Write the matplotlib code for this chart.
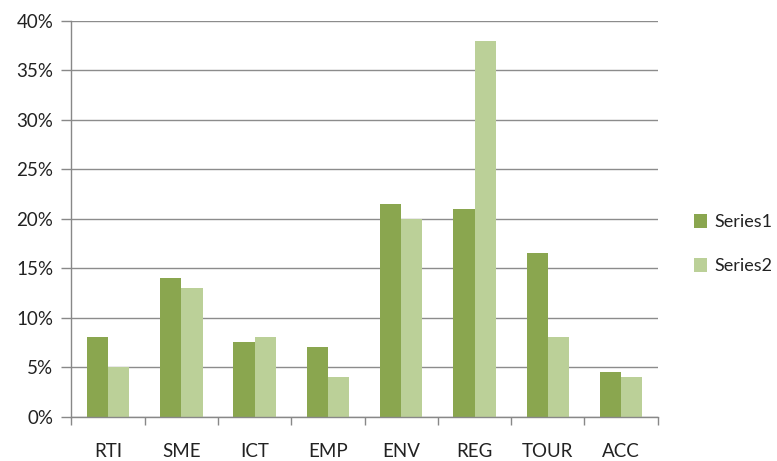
import matplotlib
matplotlib.use("Agg")
import matplotlib.pyplot as plt
import numpy as np
from matplotlib.ticker import FixedLocator, PercentFormatter

categories = ["RTI", "SME", "ICT", "EMP", "ENV", "REG", "TOUR", "ACC"]
series1 = [8.0, 14.0, 7.5, 7.0, 21.5, 21.0, 16.5, 4.5]
series2 = [5.0, 13.0, 8.0, 4.0, 20.0, 38.0, 8.0, 4.0]
series_names = ["Series1", "Series2"]
yticks = [0, 5, 10, 15, 20, 25, 30, 35, 40]

plt.rcParams['font.family'] = ['Lato', 'DejaVu Sans']

fig = plt.figure(figsize=(7.77, 4.61), dpi=100)
ax = fig.add_axes([0.092, 0.0965, 0.7545, 0.858])

x = np.arange(len(categories))
w = 0.29
c1 = "#8AA64F"
c2 = "#BBD098"
ax.bar(x - w / 2, series1, width=w, color=c1, label=series_names[0], zorder=3)
ax.bar(x + w / 2, series2, width=w, color=c2, label=series_names[1], zorder=3)

ax.set_xlim(-0.5, len(categories) - 0.5)
ax.set_ylim(0, 40)
ax.set_yticks(yticks)
ax.yaxis.set_major_formatter(PercentFormatter(decimals=0))
ax.set_xticks(x)
ax.set_xticklabels(categories)
ax.xaxis.set_minor_locator(FixedLocator(np.arange(-0.5, len(categories), 1.0)))
ax.tick_params(axis='x', which='major', length=0, pad=19, labelsize=13.5, colors="#222222")
ax.tick_params(axis='x', which='minor', length=6, width=1, color="#888888", direction='out')
ax.tick_params(axis='y', which='major', length=7, width=1, color="#888888", pad=6,
               labelsize=13.5, labelcolor="#222222")

ax.grid(axis='y', color="#8C8C8C", linewidth=1, zorder=0)
for s in ["top", "right"]:
    ax.spines[s].set_visible(False)
for s in ["left", "bottom"]:
    ax.spines[s].set_color("#888888")
    ax.spines[s].set_linewidth(1)
    ax.spines[s].set_zorder(4)

leg = fig.legend(loc="center left", bbox_to_anchor=(0.888, 0.47), frameon=False,
                 fontsize=13, handlelength=0.75, handleheight=0.75,
                 handletextpad=0.4, labelspacing=1.55, borderpad=0.2, borderaxespad=0)
for t in leg.get_texts():
    t.set_color("#222222")

fig.savefig("out.png", dpi=100)
